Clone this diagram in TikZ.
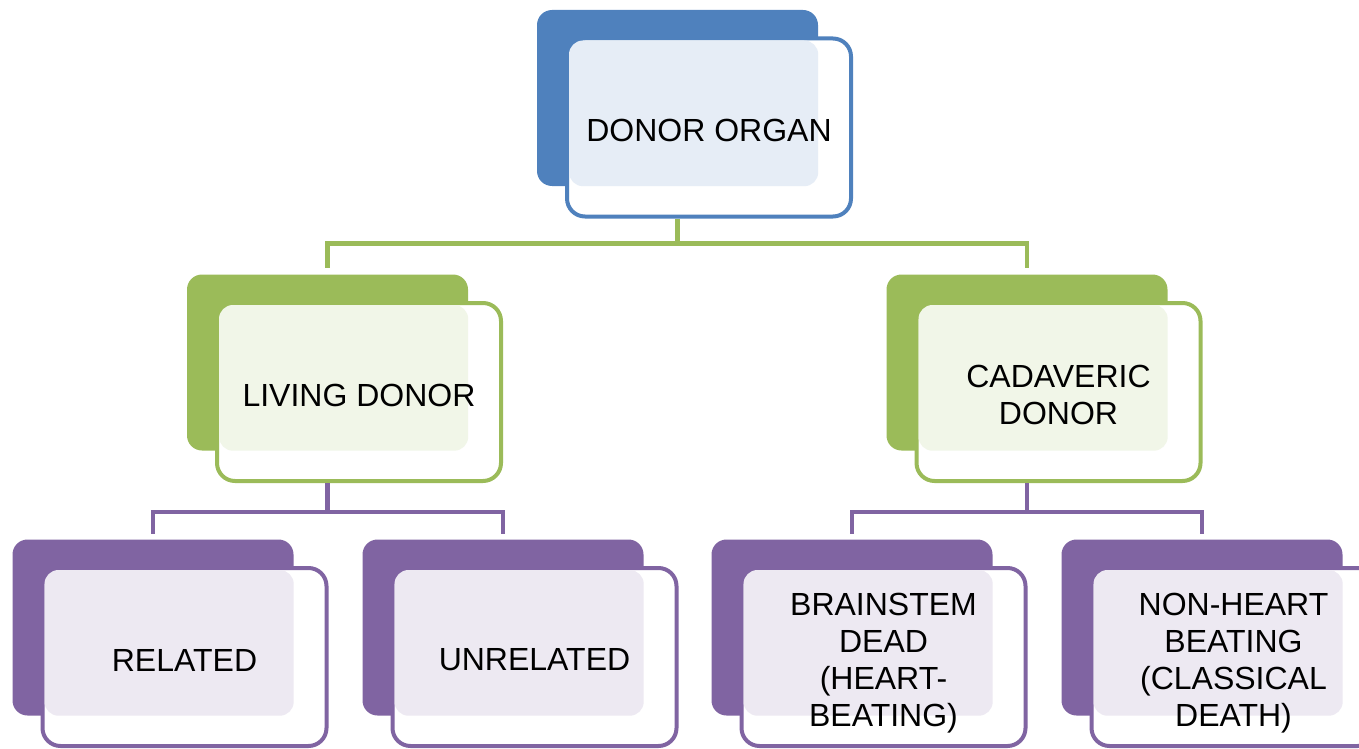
\documentclass[tikz,border=0pt]{standalone}
\usepackage{fontspec}
\setmainfont{Liberation Sans}
\usetikzlibrary{calc}

\definecolor{organblue}{HTML}{4F81BD}
\definecolor{donorgreen}{HTML}{9BBB59}
\definecolor{typepurple}{HTML}{8064A2}

\tikzset{
    backbox/.style={rectangle, rounded corners=15, minimum width=281, minimum height=176, inner sep=0},
    frontbox/.style={rectangle, rounded corners=18, minimum width=284, minimum height=178, inner sep=0, line width=4, fill=white},
    boxtext/.style={align=center, font=\fontsize{32}{37}\selectfont},
    link/.style={line width=4.5}
}

\begin{document}
\begin{tikzpicture}[x=1pt, y=-1pt]
        \useasboundingbox (0,0) rectangle (1359,749);

        % top box
        \node [backbox, fill=organblue] (organbk) at (677.5, 98) {};
        \node [frontbox, draw=organblue] (organ) at ($(organbk)+(31.5,29.5)$) {};
        \fill [organblue!14, rounded corners=14] ($(organ.north west)+(4,4)$) rectangle (organbk.south east);
        \node [boxtext] (organtx) at ($(organ)+(0,3)$) {DONOR ORGAN};

        % second row
        \node [backbox, fill=donorgreen] (livingbk) at (327.5, 362.5) {};
        \node [frontbox, draw=donorgreen] (living) at ($(livingbk)+(31.5,29.5)$) {};
        \fill [donorgreen!14, rounded corners=14] ($(living.north west)+(4,4)$) rectangle (livingbk.south east);
        \node [boxtext] (livingtx) at ($(living)+(0,3)$) {LIVING DONOR};

        \node [backbox, fill=donorgreen] (cadavbk) at (1027, 362.5) {};
        \node [frontbox, draw=donorgreen] (cadav) at ($(cadavbk)+(31.5,29.5)$) {};
        \fill [donorgreen!14, rounded corners=14] ($(cadav.north west)+(4,4)$) rectangle (cadavbk.south east);
        \node [boxtext] (cadavtx) at ($(cadav)+(0,3)$) {CADAVERIC\\DONOR};

        % bottom row
        \node [backbox, fill=typepurple] (relatedbk) at (153, 627.5) {};
        \node [frontbox, draw=typepurple] (related) at ($(relatedbk)+(31.5,29.5)$) {};
        \fill [typepurple!14, rounded corners=14] ($(related.north west)+(4,4)$) rectangle (relatedbk.south east);
        \node [boxtext] (relatedtx) at ($(related)+(0,3)$) {RELATED};

        \node [backbox, fill=typepurple] (unrelbk) at (503, 627.5) {};
        \node [frontbox, draw=typepurple] (unrel) at ($(unrelbk)+(31.5,29.5)$) {};
        \fill [typepurple!14, rounded corners=14] ($(unrel.north west)+(4,4)$) rectangle (unrelbk.south east);
        \node [boxtext] (unreltx) at ($(unrel)+(0,3)$) {UNRELATED};

        \node [backbox, fill=typepurple] (brainbk) at (852, 627.5) {};
        \node [frontbox, draw=typepurple] (brain) at ($(brainbk)+(31.5,29.5)$) {};
        \fill [typepurple!14, rounded corners=14] ($(brain.north west)+(4,4)$) rectangle (brainbk.south east);
        \node [boxtext] (braintx) at ($(brain)+(0,6)$) {BRAINSTEM\\DEAD\\(HEART-\\BEATING)};

        \node [backbox, fill=typepurple] (nonheartbk) at (1202, 627.5) {};
        \node [frontbox, draw=typepurple] (nonheart) at ($(nonheartbk)+(31.5,29.5)$) {};
        \fill [typepurple!14, rounded corners=14] ($(nonheart.north west)+(4,4)$) rectangle (nonheartbk.south east);
        \node [boxtext] (nonhearttx) at ($(nonheart)+(0,6)$) {NON-HEART\\BEATING\\(CLASSICAL\\DEATH)};

        % connectors
        \coordinate (organfork) at ($(organbk |- organ.south)+(0,25)$);
        \draw [link, donorgreen] (organbk |- organ.south) -- (organfork) -| ($(livingbk.north)+(0,-6)$);
        \draw [link, donorgreen] (organfork) -| ($(cadavbk.north)+(0,-6)$);

        \coordinate (livingfork) at ($(livingbk |- living.south)+(0,29)$);
        \draw [link, typepurple] (livingbk |- living.south) -- (livingfork) -| ($(relatedbk.north)+(0,-5)$);
        \draw [link, typepurple] (livingfork) -| ($(unrelbk.north)+(0,-5)$);

        \coordinate (cadavfork) at ($(cadavbk |- cadav.south)+(0,29)$);
        \draw [link, typepurple] (cadavbk |- cadav.south) -- (cadavfork) -| ($(brainbk.north)+(0,-5)$);
        \draw [link, typepurple] (cadavfork) -| ($(nonheartbk.north)+(0,-5)$);
\end{tikzpicture}
\end{document}
